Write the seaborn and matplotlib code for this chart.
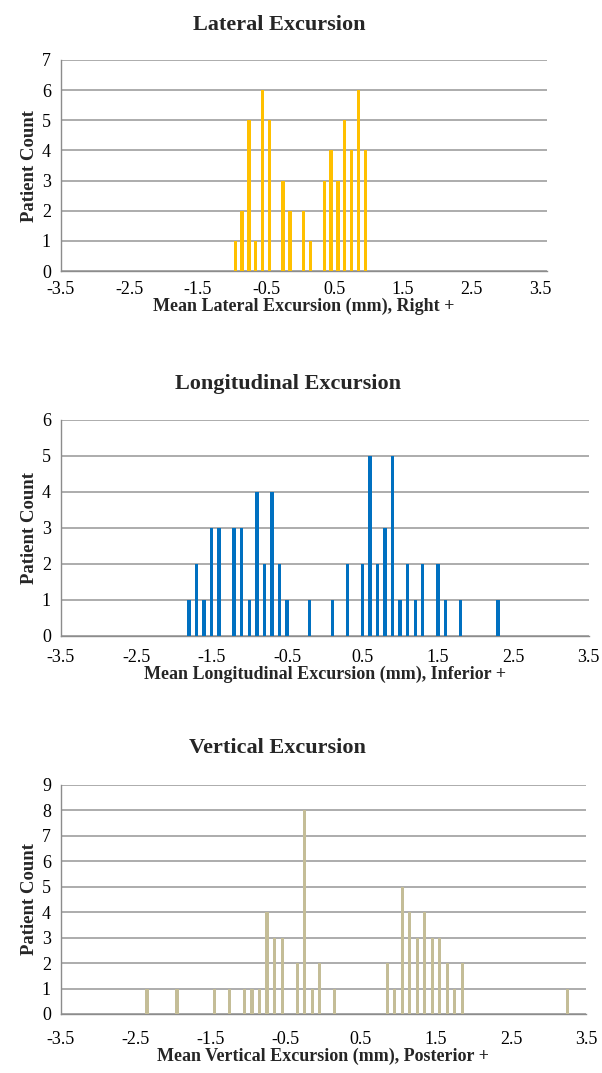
import numpy as np
import pandas as pd
import matplotlib
matplotlib.use("Agg")
import matplotlib.pyplot as plt
import seaborn as sns

# bin values (mm) and patient counts
lat_bins = [-1.0, -0.9, -0.8, -0.7, -0.6, -0.5, -0.3, -0.2, 0.0, 0.1,
            0.3, 0.4, 0.5, 0.6, 0.7, 0.8, 0.9]
lat_counts = [1, 2, 5, 1, 6, 5, 3, 2, 2, 1, 3, 4, 3, 5, 4, 6, 4]

lon_bins = [-1.8, -1.7, -1.6, -1.5, -1.4, -1.2, -1.1, -1.0, -0.9, -0.8,
            -0.7, -0.6, -0.5, -0.2, 0.1, 0.3, 0.5, 0.6, 0.7, 0.8, 0.9,
            1.0, 1.1, 1.2, 1.3, 1.5, 1.6, 1.8, 2.3]
lon_counts = [1, 2, 1, 3, 3, 3, 3, 1, 4, 2, 4, 2, 1, 1, 1, 2, 2, 5, 2,
              3, 5, 1, 2, 1, 2, 2, 1, 1, 1]

ver_bins = [-2.4, -2.0, -1.5, -1.3, -1.1, -1.0, -0.9, -0.8, -0.7, -0.6,
            -0.4, -0.3, -0.2, -0.1, 0.1, 0.8, 0.9, 1.0, 1.1, 1.2, 1.3,
            1.4, 1.5, 1.6, 1.7, 1.8, 3.2]
ver_counts = [1, 1, 1, 1, 1, 1, 1, 4, 3, 3, 2, 8, 1, 2, 1, 2, 1, 5, 4,
              3, 4, 3, 3, 2, 1, 2, 1]

tick_labels = ["-3.5", "-2.5", "-1.5", "-0.5", "0.5", "1.5", "2.5", "3.5"]
tick_vals = [float(t) for t in tick_labels]

sns.set_theme(style="white")
plt.rcParams["font.family"] = ["Liberation Serif", "DejaVu Serif"]

W, H = 602, 1073
fig = plt.figure(figsize=(W / 100, H / 100), dpi=100)

panels = [
    dict(title="Lateral Excursion", xlabel="Mean Lateral Excursion (mm), Right +",
         bins=lat_bins, counts=lat_counts, color="#FFC000", ymax=7, shift=0.05,
         rect=[60.7, 60.0, 546.7, 271.0], xmax=3.6, w=0.5, ty=25, tx=279,
         tpad=2),
    dict(title="Longitudinal Excursion",
         xlabel="Mean Longitudinal Excursion (mm), Inferior +",
         bins=lon_bins, counts=lon_counts, color="#0070C0", ymax=6, shift=0.0,
         rect=[60.7, 419.6, 588.7, 636.0], xmax=3.5, w=0.45, ty=384, tx=288,
         tpad=4),
    dict(title="Vertical Excursion", xlabel="Mean Vertical Excursion (mm), Posterior +",
         bins=ver_bins, counts=ver_counts, color="#C4BD97", ymax=9, shift=0.05,
         rect=[60.7, 784.7, 586.0, 1014.0], xmax=3.5, w=0.42, ty=748, tx=277,
         tpad=7),
]

for p in panels:
    x0, y0, x1, y1 = p["rect"]
    ax = fig.add_axes([x0 / W, 1 - y1 / H, (x1 - x0) / W, (y1 - y0) / H])
    df = pd.DataFrame({"x": np.round(np.array(p["bins"]) + p["shift"], 2),
                       "count": p["counts"]})
    sns.barplot(data=df, x="x", y="count", native_scale=True, errorbar=None,
                color=p["color"], saturation=1, width=p["w"], linewidth=0,
                ax=ax, zorder=3)
    ax.set_xlim(-3.5, p["xmax"])
    ax.set_ylim(0, p["ymax"])
    ax.set_yticks(range(0, p["ymax"] + 1))
    ax.set_xticks(tick_vals)
    ax.set_xticklabels(tick_labels)
    ax.set_xticks(np.arange(-3.0, 3.51, 1.0), minor=True)
    ax.yaxis.grid(True, color="#a6a6a6", linewidth=1.3, zorder=0)
    ax.set_axisbelow(True)
    for s in ["top", "right"]:
        ax.spines[s].set_visible(False)
    for s in ["left", "bottom"]:
        ax.spines[s].set_color("#8c8c8c")
        ax.spines[s].set_linewidth(1.0)
    ax.tick_params(axis="both", which="both", direction="out", color="#8c8c8c",
                   length=5, width=1.0, labelsize=13, pad=3, labelcolor="black")
    ax.tick_params(axis="x", which="major", pad=p["tpad"])
    ax.tick_params(axis="y", length=4)
    fig.text(p["tx"] / W, 1 - p["ty"] / H, p["title"], fontsize=16,
             fontweight="bold", ha="center", va="center")
    ax.set_xlabel(p["xlabel"], fontsize=13, fontweight="bold", labelpad=0)
    ax.set_ylabel("Patient Count", fontsize=13.5, fontweight="bold", labelpad=3)

fig.savefig("out.png", dpi=100)
